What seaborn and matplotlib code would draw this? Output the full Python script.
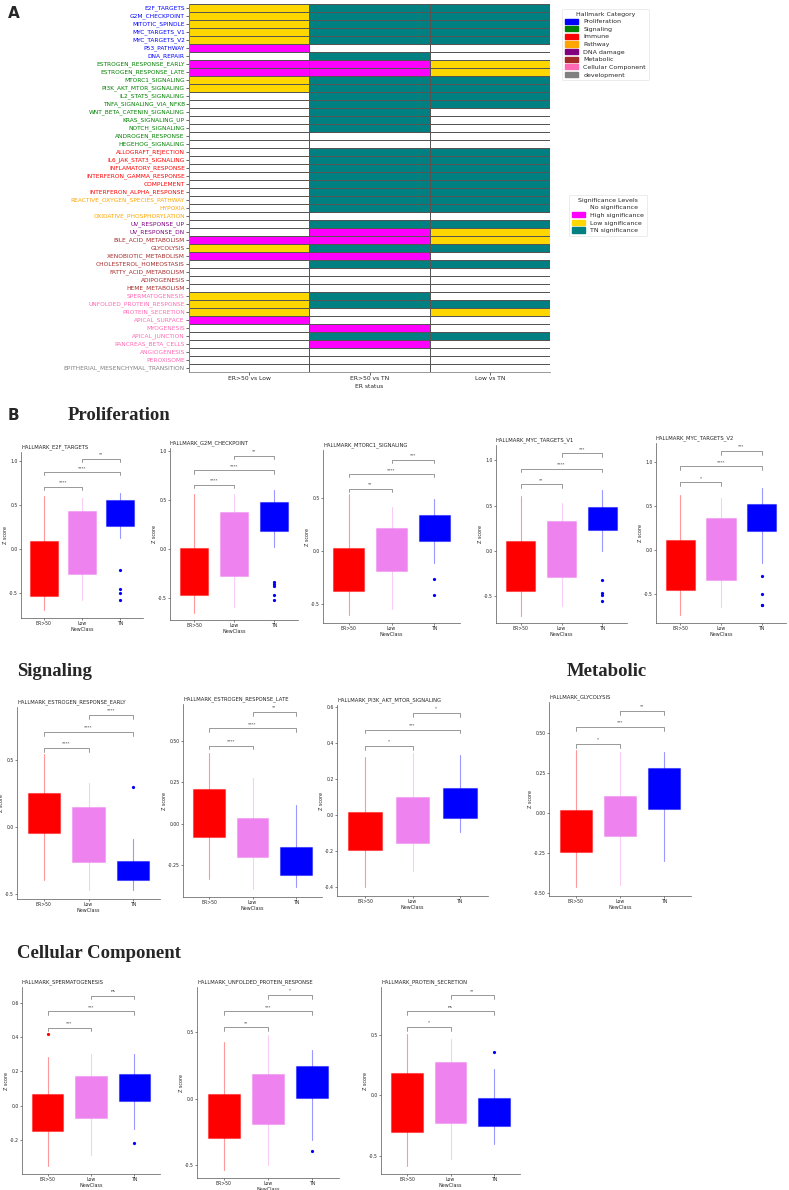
import numpy as np
import pandas as pd
import matplotlib
matplotlib.use("Agg")
import matplotlib.pyplot as plt
import seaborn as sns
from matplotlib.colors import ListedColormap
from matplotlib.patches import Patch

sns.set_style("white")
plt.rcParams['font.family'] = ['DejaVu Sans']

W, H = 789, 1190

# ---------------- panel A data ----------------
hallmarks = ["E2F_TARGETS", "G2M_CHECKPOINT", "MITOTIC_SPINDLE", "MYC_TARGETS_V1", "MYC_TARGETS_V2",
             "P53_PATHWAY", "DNA_REPAIR", "ESTROGEN_RESPONSE_EARLY", "ESTROGEN_RESPONSE_LATE",
             "MTORC1_SIGNALING", "PI3K_AKT_MTOR_SIGNALING", "IL2_STAT5_SIGNALING", "TNFA_SIGNALING_VIA_NFKB",
             "WNT_BETA_CATENIN_SIGNALING", "KRAS_SIGNALING_UP", "NOTCH_SIGNALING", "ANDROGEN_RESPONSE",
             "HEGEHOG_SIGNALING", "ALLOGRAFT_REJECTION", "IL6_JAK_STAT3_SIGNALING", "INFLAMATORY_RESPONSE",
             "INTERFERON_GAMMA_RESPONSE", "COMPLEMENT", "INTERFERON_ALPHA_RESPONSE",
             "REACTIVE_OXYGEN_SPECIES_PATHWAY", "HYPOXIA", "OXIDATIVE_PHOSPHORYLATION", "UV_RESPONSE_UP",
             "UV_RESPONSE_DN", "BILE_ACID_METABOLISM", "GLYCOLYSIS", "XENOBIOTIC_METABOLISM",
             "CHOLESTEROL_HOMEOSTASIS", "FATTY_ACID_METABOLISM", "ADIPOGENESIS", "HEME_METABOLISM",
             "SPERMATOGENESIS", "UNFOLDED_PROTEIN_RESPONSE", "PROTEIN_SECRETION", "APICAL_SURFACE",
             "MYOGENESIS", "APICAL_JUNCTION", "PANCREAS_BETA_CELLS", "ANGIOGENESIS", "PEROXISOME",
             "EPITHERIAL_MESENCHYMAL_TRANSITION"]

hallmark_category = (["Proliferation"] * 7 + ["Signaling"] * 11 + ["Immune"] * 6 + ["Pathway"] * 3
                     + ["DNA damage"] * 2 + ["Metabolic"] * 7 + ["Cellular Component"] * 9 + ["development"])

category_names = ["Proliferation", "Signaling", "Immune", "Pathway", "DNA damage", "Metabolic",
                  "Cellular Component", "development"]
category_colors = ["blue", "green", "red", "orange", "purple", "brown", "hotpink", "gray"]

comparisons = ["ER>50 vs Low", "ER>50 vs TN", "Low vs TN"]
sig_names = ["No significance", "High significance", "Low significance", "TN significance"]
sig_colors = ["white", "magenta", "gold", "teal"]

# 0 = none, 1 = high, 2 = low, 3 = TN
sig_er_low = [2, 2, 2, 2, 2, 1, 0, 1, 1, 2, 2, 0, 0, 0, 0, 0, 0, 0, 0, 0, 0, 0, 0, 0,
              0, 0, 0, 0, 0, 1, 2, 1, 0, 0, 0, 0, 2, 2, 2, 1, 0, 0, 0, 0, 0, 0]
sig_er_tn = [3, 3, 3, 3, 3, 0, 3, 1, 1, 3, 3, 3, 3, 3, 3, 3, 0, 0, 3, 3, 3, 3, 3, 3,
             3, 3, 0, 3, 1, 1, 3, 1, 3, 0, 0, 0, 3, 3, 0, 0, 1, 3, 1, 0, 0, 0]
sig_low_tn = [3, 3, 3, 3, 3, 0, 0, 2, 2, 3, 3, 3, 3, 0, 0, 0, 0, 0, 3, 3, 3, 3, 3, 3,
              3, 3, 0, 3, 2, 2, 3, 0, 3, 0, 0, 0, 0, 3, 2, 0, 0, 3, 0, 0, 0, 0]

# ---------------- panel B data ----------------
groups = ["ER>50", "Low", "TN"]
group_colors = ["#FF0000", "#EE82EE", "#0000FF"]

e2f = dict(title="HALLMARK_E2F_TARGETS",
           q1=[-0.53, -0.29, 0.265], med=[-0.2, 0.1, 0.42], q3=[0.095, 0.428, 0.553],
           lo=[-0.697, -0.583, 0.125], hi=[0.606, 0.58, 0.64],
           fliers=[[], [], [-0.242, -0.458, -0.504, -0.576]], sig=["****", "****", "**"])
g2m = dict(title="HALLMARK_G2M_CHECKPOINT",
           q1=[-0.47, -0.274, 0.189], med=[-0.2, 0.1, 0.35], q3=[0.014, 0.378, 0.476],
           lo=[-0.645, -0.591, 0.024], hi=[0.557, 0.557, 0.598],
           fliers=[[], [], [-0.331, -0.351, -0.372, -0.463, -0.52]], sig=["****", "****", "**"])
mtorc1 = dict(title="HALLMARK_MTORC1_SIGNALING",
              q1=[-0.379, -0.186, 0.096], med=[-0.15, 0.0, 0.22], q3=[0.031, 0.214, 0.338],
              lo=[-0.609, -0.55, -0.118], hi=[0.531, 0.41, 0.484],
              fliers=[[], [], [-0.267, -0.419]], sig=["**", "****", "***"])
myc_v1 = dict(title="HALLMARK_MYC_TARGETS_V1",
              q1=[-0.448, -0.289, 0.226], med=[-0.15, 0.05, 0.37], q3=[0.107, 0.33, 0.489],
              lo=[-0.719, -0.607, -0.007], hi=[0.604, 0.53, 0.67],
              fliers=[[], [], [-0.319, -0.47, -0.485, -0.559]], sig=["**", "****", "***"])
myc_v2 = dict(title="HALLMARK_MYC_TARGETS_V2",
              q1=[-0.458, -0.344, 0.214], med=[-0.15, 0.0, 0.38], q3=[0.115, 0.363, 0.527],
              lo=[-0.744, -0.649, -0.141], hi=[0.63, 0.592, 0.706],
              fliers=[[], [], [-0.294, -0.504, -0.622, -0.63]], sig=["*", "****", "***"])
esr_early = dict(title="HALLMARK_ESTROGEN_RESPONSE_EARLY",
                 q1=[-0.04, -0.26, -0.395], med=[0.1, -0.05, -0.32], q3=[0.2525, 0.15, -0.25],
                 lo=[-0.3925, -0.4725, -0.4725], hi=[0.545, 0.3325, -0.085],
                 fliers=[[], [], [0.30]], sig=["****", "****", "****"])
esr_late = dict(title="HALLMARK_ESTROGEN_RESPONSE_LATE",
                q1=[-0.077, -0.198, -0.31], med=[0.07, -0.08, -0.22], q3=[0.208, 0.034, -0.137],
                lo=[-0.333, -0.391, -0.381], hi=[0.427, 0.276, 0.115],
                fliers=[[], [], []], sig=["****", "****", "**"])
pi3k = dict(title="HALLMARK_PI3K_AKT_MTOR_SIGNALING",
            q1=[-0.194, -0.153, -0.018], med=[-0.08, -0.03, 0.06], q3=[0.018, 0.098, 0.148],
            lo=[-0.40, -0.31, -0.094], hi=[0.321, 0.345, 0.332],
            fliers=[[], [], []], sig=["*", "***", "*"])
glyco = dict(title="HALLMARK_GLYCOLYSIS",
             q1=[-0.244, -0.147, 0.023], med=[-0.1, -0.02, 0.15], q3=[0.017, 0.104, 0.277],
             lo=[-0.464, -0.451, -0.302], hi=[0.389, 0.379, 0.379],
             fliers=[[], [], []], sig=["*", "***", "**"])
sperm = dict(title="HALLMARK_SPERMATOGENESIS",
             q1=[-0.151, -0.074, 0.029], med=[-0.04, 0.05, 0.1], q3=[0.066, 0.175, 0.183],
             lo=[-0.351, -0.291, -0.138], hi=[0.283, 0.299, 0.299],
             fliers=[[0.417], [], [-0.219]], sig=["***", "***", "ns"])
upr = dict(title="HALLMARK_UNFOLDED_PROTEIN_RESPONSE",
           q1=[-0.296, -0.185, 0.005], med=[-0.12, 0.0, 0.12], q3=[0.04, 0.188, 0.248],
           lo=[-0.531, -0.494, -0.306], hi=[0.431, 0.484, 0.368],
           fliers=[[], [], [-0.391]], sig=["**", "***", "*"])
prot_sec = dict(title="HALLMARK_PROTEIN_SECRETION",
                q1=[-0.306, -0.229, -0.253], med=[-0.06, 0.02, -0.13], q3=[0.179, 0.273, -0.022],
                lo=[-0.584, -0.529, -0.402], hi=[0.51, 0.463, 0.215],
                fliers=[[], [], [0.355]], sig=["*", "ns", "**"])

# ---------------- layout ----------------
fig = plt.figure(figsize=(W / 100, H / 100), dpi=100)


def px_axes(l, t, r, b):
    return fig.add_axes([l / W, 1 - b / H, (r - l) / W, (b - t) / H])


# ---- panel A heatmap ----
sig_df = pd.DataFrame({comparisons[0]: sig_er_low, comparisons[1]: sig_er_tn,
                       comparisons[2]: sig_low_tn}, index=hallmarks)
axA = px_axes(189, 4, 550, 372)
sns.heatmap(sig_df, cmap=ListedColormap(sig_colors), vmin=-0.5, vmax=3.5, cbar=False,
            linewidths=0.6, linecolor="#555555", ax=axA)
axA.set_yticks(np.arange(len(hallmarks)) + 0.5)
axA.set_yticklabels(hallmarks, fontsize=4.2)
cat_lookup = dict(zip(category_names, category_colors))
for lab, cat in zip(axA.get_yticklabels(), hallmark_category):
    lab.set_color(cat_lookup[cat])
axA.set_xticklabels(comparisons, fontsize=4.3, rotation=0)
axA.set_xlabel("ER status", fontsize=4.3, labelpad=2)
axA.set_ylabel("")
axA.tick_params(axis="both", length=2, width=0.5, pad=1, left=True, bottom=True)
for s in ["left", "bottom"]:
    axA.spines[s].set_visible(True)
    axA.spines[s].set_color("#888888")
    axA.spines[s].set_linewidth(0.6)

cat_handles = [Patch(facecolor=c, edgecolor=c, label=n) for n, c in zip(category_names, category_colors)]
leg1 = fig.legend(handles=cat_handles, title="Hallmark Category", loc="upper left",
                  bbox_to_anchor=(559 / W, 1 - 6 / H), fontsize=4.5, title_fontsize=4.5,
                  frameon=True, handlelength=2.2, handleheight=0.9, borderpad=0.4, labelspacing=0.3)
leg1.get_frame().set_edgecolor("#dddddd")
leg1.get_frame().set_linewidth(0.5)

sig_handles = [Patch(facecolor=c, edgecolor=c, label=n) for n, c in zip(sig_names, sig_colors)]
leg2 = fig.legend(handles=sig_handles, title="Significance Levels", loc="upper left",
                  bbox_to_anchor=(566 / W, 1 - 192 / H), fontsize=4.5, title_fontsize=4.5,
                  frameon=True, handlelength=2.2, handleheight=0.9, borderpad=0.4, labelspacing=0.3)
leg2.get_frame().set_edgecolor("#dddddd")
leg2.get_frame().set_linewidth(0.5)

fig.text(8 / W, 1 - 13 / H, "A", fontsize=11, fontweight="bold", va="center")
fig.text(8 / W, 1 - 416 / H, "B", fontsize=11, fontweight="bold", va="center")

serif = ["Liberation Serif", "DejaVu Serif"]
fig.text(68 / W, 1 - 416 / H, "Proliferation", fontsize=13.5, fontweight="bold", family=serif, va="center")
fig.text(17 / W, 1 - 672 / H, "Signaling", fontsize=13.5, fontweight="bold", family=serif, va="center")
fig.text(567 / W, 1 - 672 / H, "Metabolic", fontsize=13.5, fontweight="bold", family=serif, va="center")
fig.text(17 / W, 1 - 953 / H, "Cellular Component", fontsize=13.5, fontweight="bold", family=serif, va="center")


def boxpanel(rect, d, ylim, yticks, tick_fmt, bracket_y):
    ax = px_axes(*rect)
    stats = []
    for i in range(3):
        stats.append(dict(med=d["med"][i], q1=d["q1"][i], q3=d["q3"][i], whislo=d["lo"][i],
                          whishi=d["hi"][i], fliers=d["fliers"][i], label=groups[i]))
    bp = ax.bxp(stats, positions=[0, 1, 2], widths=0.72, patch_artist=True, showcaps=False,
                manage_ticks=False)
    for i, c in enumerate(group_colors):
        rgba = matplotlib.colors.to_rgba(c)
        light = (rgba[0], rgba[1], rgba[2], 0.4)
        bp["boxes"][i].set_facecolor(c)
        bp["boxes"][i].set_edgecolor(light)
        bp["boxes"][i].set_linewidth(0.8)
        bp["medians"][i].set_color(c)
        bp["medians"][i].set_linewidth(0)
        for w in bp["whiskers"][2 * i:2 * i + 2]:
            w.set_color(light)
            w.set_linewidth(0.8)
        bp["fliers"][i].set(marker="o", markersize=1.3, markerfacecolor=c, markeredgecolor=c)
    ax.set_xlim(-0.6, 2.6)
    ax.set_ylim(*ylim)
    ax.set_yticks(yticks)
    ax.set_yticklabels([tick_fmt.format(v) for v in yticks])
    ax.set_xticks([0, 1, 2])
    ax.set_xticklabels(groups)
    ax.set_xlabel("NewClass", fontsize=3.5, labelpad=0.5)
    ax.set_ylabel("Z score", fontsize=3.5, labelpad=1)
    ax.tick_params(axis="both", labelsize=3.3, length=1.2, width=0.4, pad=1, left=True, bottom=True)
    for s in ["top", "right"]:
        ax.spines[s].set_visible(False)
    for s in ["left", "bottom"]:
        ax.spines[s].set_color("#555555")
        ax.spines[s].set_linewidth(0.5)
    ax.set_title(d["title"], loc="left", fontsize=3.8, pad=3)
    span = ylim[1] - ylim[0]
    tick = span * 0.02
    pairs = [(0, 1), (0, 2), (1, 2)]
    for (a, b), yb, lab in zip(pairs, bracket_y, d["sig"]):
        ax.plot([a, a, b, b], [yb - tick, yb, yb, yb - tick], color="#888888", lw=0.6)
        ax.text((a + b) / 2, yb + span * 0.012, lab, ha="center", va="bottom", fontsize=3)
    return ax


boxpanel((21, 452, 143, 618), e2f, (-0.784, 1.10), [-0.5, 0.0, 0.5, 1.0], "{:.1f}", [0.705, 0.871, 1.026])
boxpanel((170, 448, 298, 620), g2m, (-0.72, 1.03), [-0.5, 0.0, 0.5, 1.0], "{:.1f}", [0.655, 0.804, 0.953])
boxpanel((323, 450, 460, 623), mtorc1, (-0.68, 0.95), [-0.5, 0.0, 0.5], "{:.1f}", [0.584, 0.724, 0.857])
boxpanel((496, 445, 627, 623), myc_v1, (-0.80, 1.17), [-0.5, 0.0, 0.5, 1.0], "{:.1f}", [0.737, 0.907, 1.078])
boxpanel((656, 443, 786, 623), myc_v2, (-0.83, 1.22), [-0.5, 0.0, 0.5, 1.0], "{:.1f}", [0.775, 0.954, 1.13])

boxpanel((17, 707, 160, 899), esr_early, (-0.5375, 0.90), [-0.5, 0.0, 0.5], "{:.1f}", [0.5925, 0.715, 0.84])
boxpanel((183, 704, 322, 897), esr_late, (-0.44, 0.72), [-0.25, 0.0, 0.25, 0.5], "{:.2f}", [0.47, 0.573, 0.671])
boxpanel((337, 705, 488, 896), pi3k, (-0.448, 0.61), [-0.4, -0.2, 0.0, 0.2, 0.4, 0.6], "{:.1f}", [0.384, 0.474, 0.565])
boxpanel((549, 702, 691, 896), glyco, (-0.518, 0.69), [-0.5, -0.25, 0.0, 0.25, 0.5], "{:.2f}", [0.43, 0.536, 0.636])

boxpanel((22, 987, 160, 1174), sperm, (-0.40, 0.693), [-0.2, 0.0, 0.2, 0.4, 0.6], "{:.1f}", [0.456, 0.55, 0.643])
boxpanel((197, 987, 339, 1178), upr, (-0.594, 0.842), [-0.5, 0.0, 0.5], "{:.1f}", [0.539, 0.659, 0.782])
boxpanel((381, 987, 520, 1174), prot_sec, (-0.653, 0.895), [-0.5, 0.0, 0.5], "{:.1f}", [0.565, 0.697, 0.826])

fig.savefig("out.png", dpi=100)
